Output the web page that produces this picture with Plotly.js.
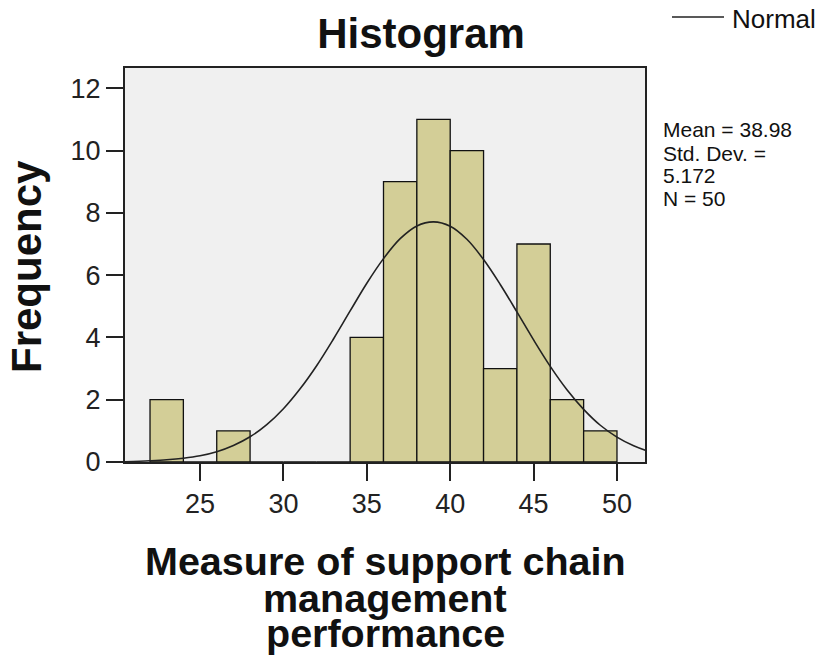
<!DOCTYPE html>
<html>
<head>
<meta charset="utf-8">
<script src="https://cdn.plot.ly/plotly-3.0.1.min.js"></script>
<style>html,body{margin:0;padding:0;background:#fff;}#chart{width:822px;height:661px;}</style>
</head>
<body>
<div id="chart"></div>
<script>
// Histogram bins (centres, width 2) and counts
const binCenters = [23, 25, 27, 29, 31, 33, 35, 37, 39, 41, 43, 45, 47, 49];
const counts     = [2, 0, 1, 0, 0, 0, 4, 9, 11, 10, 3, 7, 2, 1];
const binWidth = 2;

// Normal curve points
const curveX = [20.5, 22, 23, 24, 25, 26, 27, 28, 29, 30, 31, 32, 33, 34, 35, 36, 37, 38, 39, 40, 41, 42, 43, 44, 45, 46, 47, 48, 49, 50, 51, 51.7];
const curveY = [0.01, 0.04, 0.07, 0.12, 0.2, 0.33, 0.53, 0.81, 1.2, 1.71, 2.35, 3.1, 3.95, 4.85, 5.74, 6.53, 7.17, 7.58, 7.71, 7.57, 7.15, 6.5, 5.7, 4.82, 3.92, 3.07, 2.32, 1.69, 1.18, 0.8, 0.52, 0.38];

const xTicks = [25, 30, 35, 40, 45, 50];
const yTicks = [0, 2, 4, 6, 8, 10, 12];

const chartTitle = 'Histogram';
const xTitleLines = ['Measure of support chain', 'management', 'performance'];
const yTitle = 'Frequency';
const statLines = ['Mean = 38.98', 'Std. Dev. =', '5.172', 'N = 50'];
const curveName = 'Normal';

const FONT = 'Liberation Sans, Arial, sans-serif';

const traces = [
  {
    type: 'bar',
    x: binCenters,
    y: counts,
    width: binCenters.map(() => binWidth),
    marker: {color: 'rgb(211,206,151)', line: {color: '#111', width: 1.3}},
    showlegend: false,
    hoverinfo: 'x+y'
  },
  {
    type: 'scatter',
    mode: 'lines',
    x: curveX,
    y: curveY,
    name: curveName,
    line: {color: '#222', width: 1.6, shape: 'spline'},
    showlegend: false
  }
];

const PL = 125, PR = 645, PT = 68, PB = 462;
const pw = PR - PL, ph = PB - PT;
const px = v => (v - PL) / pw;
const py = v => (PB - v) / ph;

const annotations = [];
// x-axis title lines
const xLineY = [561, 598, 633];
xTitleLines.forEach((t, i) => annotations.push({
  text: '<b>' + t + '</b>', xref: 'paper', yref: 'paper',
  x: 0.5, y: py(xLineY[i]), xanchor: 'center', yanchor: 'middle',
  showarrow: false, font: {family: FONT, size: 39.5, color: '#111'}
}));
// y-axis title
annotations.push({
  text: '<b>' + yTitle + '</b>', xref: 'paper', yref: 'paper',
  x: px(26), y: py(267), xanchor: 'center', yanchor: 'middle', textangle: -90,
  showarrow: false, font: {family: FONT, size: 42, color: '#111'}
});
// stats text
const statY = [129, 153, 175, 198];
statLines.forEach((t, i) => annotations.push({
  text: t, xref: 'paper', yref: 'paper',
  x: px(661), y: py(statY[i]), xanchor: 'left', yanchor: 'middle', align: 'left',
  showarrow: false, font: {family: FONT, size: 21, color: '#111'}
}));
// legend label for the normal curve
annotations.push({
  text: curveName, xref: 'paper', yref: 'paper',
  x: px(730), y: py(19), xanchor: 'left', yanchor: 'middle',
  showarrow: false, font: {family: FONT, size: 26, color: '#111'}
});

const layout = {
  width: 822, height: 661,
  margin: {l: PL, r: 822 - PR, t: PT, b: 661 - PB, pad: 0},
  paper_bgcolor: '#ffffff',
  plot_bgcolor: '#f0f0f0',
  title: {
    text: '<b>' + chartTitle + '</b>',
    x: 421 / 822, xanchor: 'center', xref: 'container',
    y: 1 - 33 / 661, yanchor: 'middle', yref: 'container',
    font: {family: FONT, size: 42, color: '#111'}
  },
  bargap: 0,
  xaxis: {
    range: [20.5, 51.68],
    tickvals: xTicks, ticktext: xTicks.map(String),
    ticks: 'outside', ticklen: 17, tickwidth: 2, tickcolor: '#222',
    showgrid: false, zeroline: false,
    showline: true, linecolor: '#222', linewidth: 2, mirror: true,
    tickfont: {family: FONT, size: 27, color: '#222'}
  },
  yaxis: {
    range: [0, 12.65],
    tickvals: yTicks, ticktext: yTicks.map(String),
    ticks: 'outside', ticklen: 17, tickwidth: 2, tickcolor: '#222',
    showgrid: false, zeroline: false,
    showline: true, linecolor: '#222', linewidth: 2, mirror: true,
    tickfont: {family: FONT, size: 27, color: '#222'}
  },
  showlegend: false,
  shapes: [{
    type: 'line', xref: 'paper', yref: 'paper',
    x0: px(672), x1: px(724), y0: py(17), y1: py(17),
    line: {color: '#222', width: 1.6}
  }],
  annotations: annotations
};

Plotly.newPlot('chart', traces, layout, {displayModeBar: false, staticPlot: true});
</script>
</body>
</html>
